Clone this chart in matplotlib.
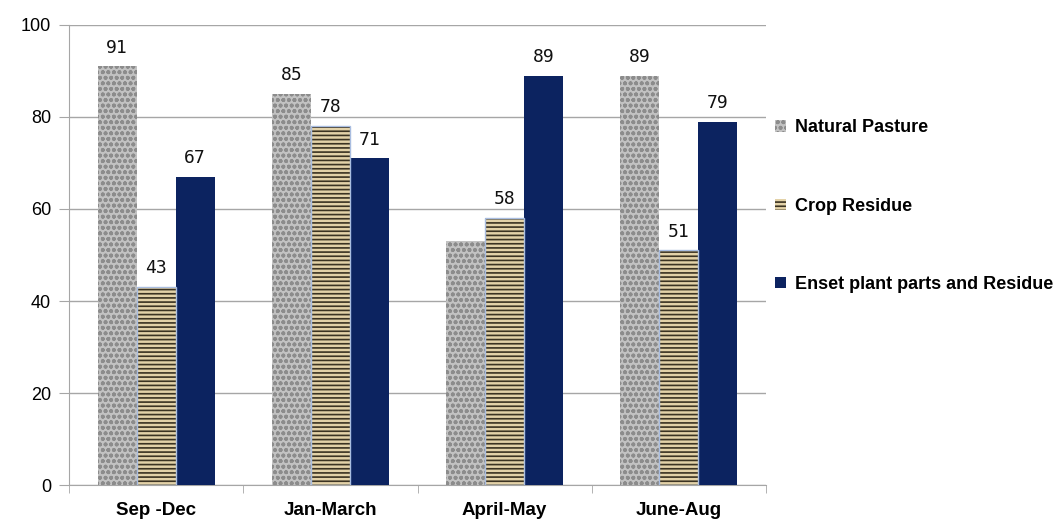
import numpy as np
import matplotlib
matplotlib.use('Agg')
import matplotlib.pyplot as plt
from matplotlib.font_manager import FontProperties

# data
SEASONS = ['Sep -Dec', 'Jan-March', 'April-May', 'June-Aug']
NATURAL = [91, 85, 53, 89]
CROP = [43, 78, 58, 51]
ENSET = [67, 71, 89, 79]
SERIES = ['Natural Pasture', 'Crop Residue', 'Enset plant parts and Residue']
# which values carry a data label
NATURAL_LBL = [True, True, False, True]
CROP_LBL = [True, True, True, True]
ENSET_LBL = [True, True, True, True]

plt.rcParams['font.family'] = ['Liberation Sans', 'DejaVu Sans']
plt.rcParams['hatch.linewidth'] = 1.2

fig = plt.figure(figsize=(10.56, 5.24), dpi=100)
ax = fig.add_axes([69/1056, 39/524, 697/1056, 460/524])

x = np.arange(len(SEASONS))
w = 0.224
GRID = '#a6a6a6'
MONO = FontProperties(family='DejaVu Sans Mono', size=13)

styles = [
    dict(face='#c2c2c2', hatch='ooo', hcol='#8c8c8c', outline=None),
    dict(face='#e3d2a8', hatch='----', hcol='#3b3322', outline='#a9bde0'),
    dict(face='#0c2360', hatch=None, hcol='#0c2360', outline=None),
]
data = [NATURAL, CROP, ENSET]
lbls = [NATURAL_LBL, CROP_LBL, ENSET_LBL]

handles = []
for k, (vals, st) in enumerate(zip(data, styles)):
    pos = x + (k - 1) * w
    bars = ax.bar(pos, vals, w, color=st['face'], edgecolor=st['hcol'],
                  hatch=st['hatch'], linewidth=0, zorder=3)
    if st['outline']:
        ax.bar(pos, vals, w, fill=False, edgecolor=st['outline'], linewidth=1.0, zorder=4)
    handles.append(bars)
    for xp, v, show in zip(pos, vals, lbls[k]):
        if show:
            ax.annotate(str(v), (xp, v), xytext=(0, 7), textcoords='offset points',
                        ha='center', va='bottom', fontproperties=MONO, color='#111111')

ax.set_xlim(-0.5, 3.5)
ax.set_ylim(0, 100)
ax.set_yticks(range(0, 101, 20))
ax.yaxis.grid(True, color=GRID, linewidth=1.0, zorder=0)
ax.set_axisbelow(True)
ax.tick_params(axis='y', length=7, color=GRID, labelsize=13, pad=6)

ax.set_xticks(x)
ax.set_xticklabels(SEASONS, fontsize=13.5, fontweight='bold',
                   family=['Liberation Sans Narrow', 'Liberation Sans'])
ax.tick_params(axis='x', length=0, pad=12)
ax.set_xticks(np.arange(-0.5, 4, 1), minor=True)
ax.tick_params(axis='x', which='minor', length=6, color=GRID, direction='out')

for s in ['top', 'right']:
    ax.spines[s].set_visible(False)
ax.spines['left'].set_color(GRID)
ax.spines['bottom'].set_color(GRID)

fig.legend(handles, SERIES, loc='upper left', bbox_to_anchor=(768/1056, 1 - 112/524),
           frameon=False, prop=dict(size=13, weight='bold'), labelspacing=3.4,
           handlelength=0.6, handleheight=0.6, handletextpad=0.5, borderaxespad=0)

fig.savefig('out.png', dpi=100, facecolor='white')
